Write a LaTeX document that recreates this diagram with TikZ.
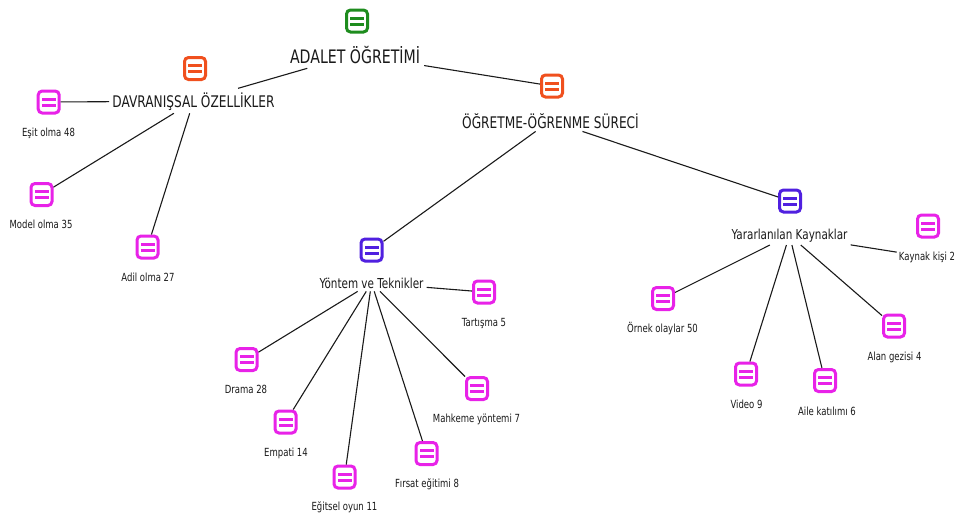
\documentclass[tikz,border=0pt]{standalone}
\usepackage{fontspec}
\setmainfont{DejaVu Sans}[FakeStretch=0.76]
\definecolor{cgreen}{HTML}{1E8C1E}
\definecolor{corange}{HTML}{F0501E}
\definecolor{cblue}{HTML}{5020E0}
\definecolor{cmag}{HTML}{E822E8}
\definecolor{textc}{HTML}{1A1A1A}
\tikzset{
  icon/.style={draw=#1, line width=3pt, rounded corners=4pt, fill=white,
    minimum width=21pt, minimum height=22pt, inner sep=0pt, outer sep=1.5pt,
    path picture={
      \fill[#1, sharp corners] ([xshift=-7pt,yshift=1.5pt]path picture bounding box.center) rectangle ++(14pt,3pt);
      \fill[#1, sharp corners] ([xshift=-7pt,yshift=-4.5pt]path picture bounding box.center) rectangle ++(14pt,3pt);
    }},
  lbl/.style={text=textc, anchor=base, inner sep=3pt},
  ltitle/.style={lbl, font=\fontsize{18.6}{22}\selectfont, inner sep=4pt},
  lone/.style={lbl, font=\fontsize{16}{19}\selectfont},
  ltwo/.style={lbl, font=\fontsize{13.7}{16}\selectfont},
  lleaf/.style={lbl, font=\fontsize{11.2}{13}\selectfont, inner sep=2pt},
  conn/.style={draw=textc, line width=1.1pt},
}
\begin{document}
\begin{tikzpicture}[x=1pt,y=-1pt]
\useasboundingbox[fill=white] (0,0) rectangle (961,515);

% root and first level
\node[icon=cgreen]  (i0) at (357,21) {};
\node[ltitle] (t0) at (355,63) {ADALET ÖĞRETİMİ};
\node[icon=corange] (i1) at (195,68.5) {};
\node[lone] (t1) at (193.5,107) {DAVRANIŞSAL ÖZELLİKLER};
\node[icon=corange] (i2) at (552,86) {};
\node[lone] (t2) at (550.5,128) {ÖĞRETME-ÖĞRENME SÜRECİ};

% second level
\node[icon=cblue] (i3) at (371.5,250) {};
\node[ltwo] (t3) at (371.5,288) {Yöntem ve Teknikler};
\node[icon=cblue] (i4) at (790,201) {};
\node[ltwo] (t4) at (789.5,239) {Yararlanılan Kaynaklar};

% leaves of DAVRANIŞSAL ÖZELLİKLER
\node[icon=cmag] (esit)  at (48.7,102) {};
\node[lleaf] (lesit) at (48.5,136) {Eşit olma 48};
\node[icon=cmag] (model) at (41.5,194.5) {};
\node[lleaf] (lmodel) at (41,228) {Model olma 35};
\node[icon=cmag] (adil)  at (147.5,247) {};
\node[lleaf] (ladil) at (148,281) {Adil olma 27};

% leaves of Yöntem ve Teknikler
\node[icon=cmag] (tart) at (484,292) {};
\node[lleaf] (ltart) at (484,326) {Tartışma 5};
\node[icon=cmag] (drama) at (246.5,359.5) {};
\node[lleaf] (ldrama) at (246,393) {Drama 28};
\node[icon=cmag] (empati) at (285.5,422) {};
\node[lleaf] (lempati) at (286,456) {Empati 14};
\node[icon=cmag] (egitsel) at (344.5,477) {};
\node[lleaf] (legitsel) at (344.5,510) {Eğitsel oyun 11};
\node[icon=cmag] (firsat) at (426.5,453.5) {};
\node[lleaf] (lfirsat) at (427,487) {Fırsat eğitimi 8};
\node[icon=cmag] (mahkeme) at (477,388.5) {};
\node[lleaf] (lmahkeme) at (476.5,422) {Mahkeme yöntemi 7};

% leaves of Yararlanılan Kaynaklar
\node[icon=cmag] (kaynak) at (928,226) {};
\node[lleaf] (lkaynak) at (927,260) {Kaynak kişi 2};
\node[icon=cmag] (ornek) at (663,298.5) {};
\node[lleaf] (lornek) at (662.5,332) {Örnek olaylar 50};
\node[icon=cmag] (video) at (746,374) {};
\node[lleaf] (lvideo) at (746.5,408) {Video 9};
\node[icon=cmag] (aile) at (825,380.5) {};
\node[lleaf] (laile) at (827,415) {Aile katılımı 6};
\node[icon=cmag] (alan) at (894,326) {};
\node[lleaf] (lalan) at (894.5,360) {Alan gezisi 4};

% connectors
\draw[conn, shorten <=3pt, shorten >=3pt] (t0) -- (t1);
\draw[conn] (t0) -- (i2);
\draw[conn] (t1) -- (esit);
\draw[conn] (t1) -- (model);
\draw[conn] (t1) -- (adil);
\draw[conn] (t2) -- (i3);
\draw[conn] (t2) -- (i4);
\draw[conn] (t3) -- (tart);
\draw[conn] (t3) -- (drama);
\draw[conn] (t3) -- (empati);
\draw[conn] (t3) -- (egitsel);
\draw[conn] (t3) -- (firsat);
\draw[conn] (t3) -- (mahkeme);
\draw[conn] (t4) -- (lkaynak);
\draw[conn] (t4) -- (ornek);
\draw[conn] (t4) -- (video);
\draw[conn] (t4) -- (aile);
\draw[conn] (t4) -- (alan);
\end{tikzpicture}
\end{document}
